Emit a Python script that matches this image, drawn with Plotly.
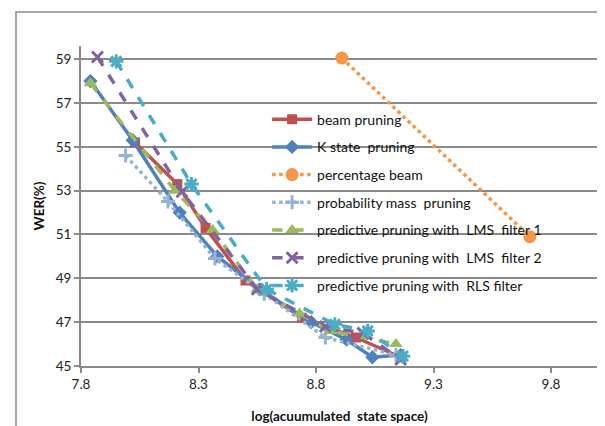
import plotly.graph_objects as go

# ---- data ----
beam_x = [8.03, 8.21, 8.33, 8.50, 8.74, 8.97, 9.16]
beam_y = [55.2, 53.3, 51.3, 48.9, 47.2, 46.3, 45.4]

kstate_x = [7.84, 8.02, 8.22, 8.38, 8.56, 8.78, 8.93, 9.04, 9.16]
kstate_y = [58.0, 55.3, 52.0, 50.0, 48.5, 47.0, 46.2, 45.4, 45.5]

pbeam_x = [8.91, 9.71]
pbeam_y = [59.05, 50.9]

pmass_x = [7.99, 8.17, 8.37, 8.58, 8.84, 9.14]
pmass_y = [54.6, 52.5, 49.9, 48.3, 46.3, 45.5]

lms1_x = [7.84, 8.20, 8.36, 8.55, 8.73, 8.86, 9.14]
lms1_y = [57.9, 53.0, 51.2, 48.5, 47.4, 46.6, 46.0]

lms2_x = [7.87, 8.23, 8.55, 8.84, 9.00, 9.16]
lms2_y = [59.1, 52.95, 48.5, 46.8, 46.5, 45.3]

rls_x = [7.95, 8.27, 8.59, 8.88, 9.02, 9.17]
rls_y = [58.9, 53.3, 48.5, 46.9, 46.6, 45.45]

names = ["beam pruning", "K state  pruning", "percentage beam",
         "probability mass  pruning", "predictive pruning with  LMS  filter 1",
         "predictive pruning with  LMS  filter 2", "predictive pruning with  RLS filter"]

x_ticks = [7.8, 8.3, 8.8, 9.3, 9.8]
y_ticks = [45, 47, 49, 51, 53, 55, 57, 59]

series = [
    (beam_x, beam_y, "#C0504D", "solid", "square", 10),
    (kstate_x, kstate_y, "#4F81BD", "solid", "diamond", 11),
    (pbeam_x, pbeam_y, "#F79646", "dot", "circle", 13),
    (pmass_x, pmass_y, "#95B3D7", "dot", "cross-thin", 10),
    (lms1_x, lms1_y, "#9BBB59", "dash", "triangle-up", 12),
    (lms2_x, lms2_y, "#8064A2", "dash", "x-thin", 11),
    (rls_x, rls_y, "#4BACC6", "dash", "asterisk", 12),
]

fig = go.Figure()
for i, ((xs, ys, col, dash, sym, ms), nm) in enumerate(zip(series, names)):
    thin = sym in ("cross-thin", "x-thin", "asterisk")
    fig.add_trace(go.Scatter(
        x=xs, y=ys, name=nm, mode="lines+markers", legendgroup=f"g{i}",
        line=dict(color=col, width=3.5, dash=dash),
        marker=dict(symbol=sym, size=ms, color=col,
                    line=dict(color=col, width=3 if thin else 0)),
    ))

grid_col = "#8a8a8a"
fig.update_layout(
    width=605, height=426,
    margin=dict(l=73, r=15, t=38, b=68),
    paper_bgcolor="white", plot_bgcolor="white",
    font=dict(family="Lato, Open Sans, sans-serif", size=13, color="#222222"),
    showlegend=True,
    legend=dict(x=0.36, y=0.82, xanchor="left", yanchor="top",
                bgcolor="rgba(0,0,0,0)", tracegroupgap=6.5,
                font=dict(size=14, color="#111111"), itemwidth=40),
    xaxis=dict(range=[7.8, 10.0], tickvals=x_ticks, ticktext=[str(v) for v in x_ticks],
               showgrid=False, zeroline=False, showline=True, linecolor=grid_col,
               linewidth=2, ticks="outside", ticklen=5, tickcolor=grid_col, tickwidth=2,
               title=dict(text="<b>log(acuumulated  state space)</b>", standoff=20,
                          font=dict(size=13.5, color="#111111")),
               tickfont=dict(size=13.5, color="#222222")),
    yaxis=dict(range=[45, 59.6], tickvals=y_ticks, showgrid=True, gridcolor=grid_col,
               gridwidth=2, zeroline=False, showline=True, linecolor=grid_col,
               linewidth=2, ticks="outside", ticklen=5, tickcolor=grid_col, tickwidth=2,
               title=dict(text="<b>WER(%)</b>", standoff=8,
                          font=dict(size=13.5, color="#111111")),
               tickfont=dict(size=13.5, color="#222222")),
)
# outer chart frame
fig.add_shape(type="rect", xref="paper", yref="paper",
              x0=(8 - 73) / 517, x1=(600 - 73) / 517,
              y0=(358 - 421) / 320, y1=(358 - 4) / 320,
              line=dict(color="#8a8a8a", width=1.5), layer="below")

fig.write_html("out.html")
